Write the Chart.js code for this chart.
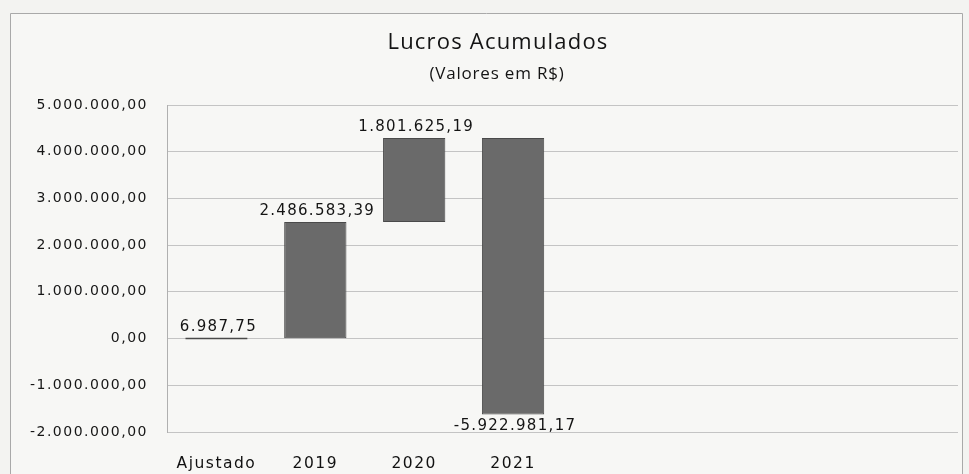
<!DOCTYPE html>
<html>
<head>
<meta charset="utf-8">
<script src="https://cdn.jsdelivr.net/npm/chart.js@4.4.1/dist/chart.umd.min.js"></script>
<style>
  html, body { margin: 0; padding: 0; background: #f3f3f1; }
  #wrap { position: relative; width: 969px; height: 474px; }
  canvas { display: block; }
</style>
</head>
<body>
<div id="wrap"><canvas id="c" width="969" height="474"></canvas></div>
<script>
// ---- data ----
const categories = ['Ajustado', '2019', '2020', '2021', '', '', '', ''];
const deltas = [6987.75, 2486583.39, 1801625.19, -5922981.17];
const yMin = -2000000;
const yMax = 5000000;
const yStep = 1000000;
const titleText = 'Lucros Acumulados';
const subtitleText = '(Valores em R$)';

function fmt(v) {
  const neg = v < 0;
  const s = Math.abs(v).toFixed(2);
  let [i, d] = s.split('.');
  i = i.replace(/\B(?=(\d{3})+(?!\d))/g, '.');
  return (neg ? '-' : '') + i + ',' + d;
}

// floating bars built from the deltas
const floating = [];
let run = 0;
deltas.forEach(d => { floating.push([run, run + d]); run += d; });

const spacing = '1.5px';
const setSpacing = (chart) => { chart.ctx.letterSpacing = spacing; };

const deco = {
  id: 'deco',
  beforeLayout: setSpacing,
  beforeDraw(chart) {
    const ctx = chart.ctx;
    ctx.save();
    ctx.letterSpacing = '0px';
    ctx.fillStyle = '#f7f7f5';
    ctx.fillRect(10, 13, 952, 461);
    ctx.strokeStyle = '#a9a9a9';
    ctx.lineWidth = 1;
    ctx.beginPath();
    ctx.moveTo(10.5, 474); ctx.lineTo(10.5, 13.5); ctx.lineTo(962.5, 13.5); ctx.lineTo(962.5, 474);
    ctx.stroke();
    ctx.restore();
    setSpacing(chart);
  },
  afterDraw(chart) {
    const ctx = chart.ctx;
    ctx.save();
    ctx.fillStyle = '#141414';
    ctx.textAlign = 'center';
    ctx.textBaseline = 'middle';
    ctx.letterSpacing = '1.2px';
    ctx.font = '22px "Open Sans"';
    ctx.fillText(titleText, 498, 43);
    ctx.letterSpacing = '0.8px';
    ctx.font = '17px "Open Sans"';
    ctx.fillText(subtitleText, 497, 74);

    // value labels
    const meta = chart.getDatasetMeta(0);
    ctx.font = '15px "DejaVu Sans"';
    ctx.letterSpacing = '1.3px';
    meta.data.forEach((el, i) => {
      const top = Math.min(el.y, el.base);
      const bot = Math.max(el.y, el.base);
      const d = deltas[i];
      if (d >= 0) {
        ctx.textBaseline = 'bottom';
        ctx.fillText(fmt(d), el.x + 2, top - 3);
      } else {
        ctx.textBaseline = 'top';
        ctx.fillText(fmt(d), el.x + 2, bot + 4);
      }
    });
    ctx.restore();
  }
};

new Chart(document.getElementById('c'), {
  type: 'bar',
  data: {
    labels: categories,
    datasets: [{
      data: floating,
      backgroundColor: '#6a6a6a',
      borderColor: '#4a4a4a',
      borderWidth: 1,
      borderSkipped: false,
      minBarLength: 2,
      categoryPercentage: 1.0,
      barPercentage: 0.63
    }]
  },
  options: {
    responsive: false,
    animation: false,
    devicePixelRatio: 1,
    layout: { padding: { left: 0, right: 11, top: 105, bottom: 0 } },
    plugins: { legend: { display: false }, title: { display: false }, tooltip: { enabled: false } },
    scales: {
      x: {
        grid: { display: false },
        border: { display: false },
        ticks: { color: '#111', font: { family: 'DejaVu Sans', size: 15.5 }, padding: 15, maxRotation: 0, autoSkip: false },
        afterFit(scale) { scale.height = 42; }
      },
      y: {
        min: yMin,
        max: yMax,
        grid: { color: '#c4c4c4', drawTicks: false, lineWidth: 1 },
        border: { display: true, color: '#b0b0b0' },
        ticks: {
          stepSize: yStep,
          color: '#161616',
          font: { family: 'DejaVu Sans', size: 14 },
          padding: 19,
          callback: v => fmt(v)
        },
        afterFit(scale) { scale.width = 167; }
      }
    }
  },
  plugins: [deco]
});
</script>
</body>
</html>
